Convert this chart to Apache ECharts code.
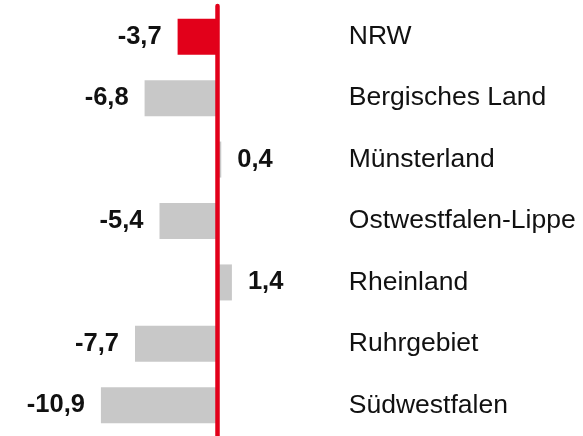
<!DOCTYPE html>
<html>
<head>
<meta charset="utf-8">
<script src="https://cdn.jsdelivr.net/npm/echarts@6/dist/echarts.min.js"></script>
<style>
html,body{margin:0;padding:0;background:#fff;}
#chart{width:583px;height:436px;}
</style>
</head>
<body>
<div id="chart"></div>
<script>
var categories = ['NRW', 'Bergisches Land', 'Münsterland', 'Ostwestfalen-Lippe', 'Rheinland', 'Ruhrgebiet', 'Südwestfalen'];
var values = [-3.7, -6.8, 0.4, -5.4, 1.4, -7.7, -10.9];
var highlight = 'NRW';

var RED = '#e2001a';
var GRAY = '#c8c8c8';
var FONT = '"Liberation Sans", Arial, sans-serif';

var chart = echarts.init(document.getElementById('chart'), null, {renderer: 'canvas'});

var seriesData = values.map(function (v) {
  return {value: v, label: {position: v < 0 ? 'left' : 'right'}};
});

chart.setOption({
  animation: false,
  backgroundColor: '#fff',
  grid: {left: 89.2, width: 255.6, top: 6, height: 434, containLabel: false},
  xAxis: {
    type: 'value', min: -12, max: 12, interval: 4,
    show: false, splitLine: {show: false}
  },
  yAxis: [
    {
      type: 'category', data: categories, inverse: true,
      axisLine: {show: true, onZero: true, lineStyle: {color: RED, width: 4.5}},
      axisTick: {show: false}, axisLabel: {show: false}, splitLine: {show: false},
      z: 10
    },
    {
      type: 'category', data: categories, inverse: true, position: 'right',
      axisLine: {show: false}, axisTick: {show: false}, splitLine: {show: false},
      axisLabel: {
        show: true, align: 'left', margin: 4,
        fontFamily: FONT, fontSize: 26.5, color: '#111'
      }
    }
  ],
  series: [{
    type: 'bar',
    yAxisIndex: 0,
    data: seriesData,
    barWidth: 36,
    itemStyle: {
      color: function (p) { return p.name === highlight ? RED : GRAY; }
    },
    label: {
      show: true, distance: 16,
      fontFamily: FONT, fontSize: 25.5, fontWeight: 'bold', color: '#111',
      formatter: function (p) { return String(p.value).replace('.', ','); }
    }
  }]
});
</script>
</body>
</html>
